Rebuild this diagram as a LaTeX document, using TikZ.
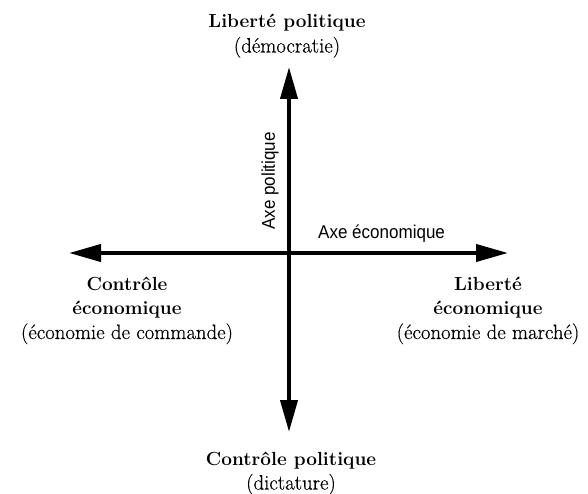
\documentclass[tikz,border=0pt]{standalone}
\usepackage{fontspec}
\newfontfamily\axisfont[FakeStretch=0.92]{Liberation Sans}
\newfontfamily\subfont[FakeBold=0.4]{Latin Modern Roman}
\usetikzlibrary{arrows.meta}
\newcommand\polehead{\fontsize{19}{25}\selectfont\bfseries}
\newcommand\polesub{\subfont\fontsize{20.8}{25}\selectfont}
\tikzset{
  axis/.style={line width=4pt,
    {Triangle[length=32pt,width=17pt]}-{Triangle[length=32pt,width=17pt]}},
  pole/.style={anchor=base, inner sep=0pt, font=\fontsize{20}{24.5}\selectfont},
  axlabel/.style={inner sep=0pt, font=\axisfont\fontsize{18.5}{22}\selectfont},
}
\begin{document}
\begin{tikzpicture}[x=1pt,y=-1pt]
  \fill[white] (0,0) rectangle (588,494);
  \useasboundingbox (0,0) rectangle (588,494);
  % axis end points
  \coordinate (N) at (289,67);
  \coordinate (S) at (289,432);
  \coordinate (W) at (69,253);
  \coordinate (E) at (508,253);
  \draw[axis] (S) -- (N);
  \draw[axis] (W) -- (E);
  % axis labels
  \node[axlabel, rotate=90] (axpol) at (270,181) {Axe politique};
  \node[axlabel, anchor=base west] (axeco) at (318,238) {Axe économique};
  % poles
  \node[pole] (top) at (287,28) {\begin{tabular}[t]{@{}c@{}}\polehead Liberté politique\\ \polesub (démocratie)\end{tabular}};
  \node[pole] (bottom) at (291,465) {\begin{tabular}[t]{@{}c@{}}\polehead Contrôle politique\\ \polesub (dictature)\end{tabular}};
  \node[pole] (left) at (127,290) {\begin{tabular}[t]{@{}c@{}}\polehead Contrôle\\ \polehead économique\\ \polesub (économie de commande)\end{tabular}};
  \node[pole] (right) at (488,290) {\begin{tabular}[t]{@{}c@{}}\polehead Liberté\\ \polehead économique\\ \polesub (économie de marché)\end{tabular}};
\end{tikzpicture}
\end{document}
